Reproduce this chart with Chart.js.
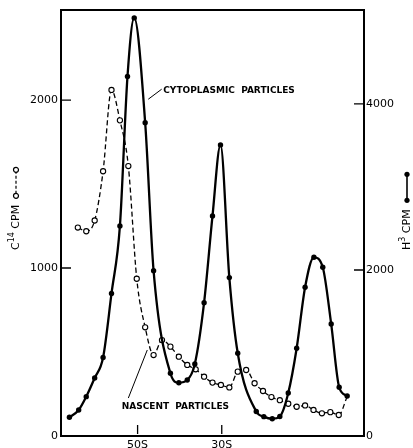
<!DOCTYPE html>
<html lang="en">
<head>
<meta charset="UTF-8">
<title>Perfil de sedimentação</title>
<style>
  html, body { margin: 0; padding: 0; background: #fff; }
  #wrap { width: 413px; height: 448px; }
</style>
</head>
<body>
<div id="wrap"><canvas id="grafico" width="413" height="448"></canvas></div>

<script src="https://cdn.jsdelivr.net/npm/chart.js"></script>
<script>
    // H3 (cytoplasmic particles) - fraction number and counts, right axis
    const fracH3 = [1, 2.1, 3, 4, 5, 6, 7, 7.9, 8.7, 10, 11, 13, 14, 15, 15.9, 17, 18, 18.95, 20, 21,
        23.2, 24.1, 25.1, 26, 27, 28, 29, 30.05, 31.1, 32.1, 33.05, 34];
    const h3Cpm = [225, 313, 474, 699, 946, 1717, 2531, 4332, 5037, 3775, 1992, 756, 642, 675, 868, 1606, 2651, 3507, 1908, 997,
        295, 233, 208, 235, 518, 1057, 1792, 2153, 2033, 1350, 587, 482];

    // C14 (nascent particles) - fraction number and counts, left axis
    const fracC14 = [2, 3, 4, 5, 6, 7, 8, 9, 10, 11, 12, 13, 14, 15, 16, 17, 18, 19, 20, 21,
        22, 23, 24, 25, 26, 27, 28, 29, 30, 31, 32, 33, 34];
    const c14Cpm = [1241, 1219, 1283, 1576, 2060, 1879, 1607, 936, 647, 482, 571, 532, 472, 423, 397, 353, 318, 304, 289, 383,
        393, 314, 268, 232, 213, 192, 174, 182, 155, 135, 142, 125, 234];

    const leftTicks = [0, 1000, 2000];
    const rightTicks = [0, 2000, 4000];
    const sedFrac = [9.1, 19.1];
    const sedLabels = ['50S', '30S'];

    const FONTE = '"DejaVu Sans", sans-serif';

    function pontos(xs, ys) {
        return xs.map(function (x, i) { return { x: x, y: ys[i] }; });
    }

    function textoSup(ctx, partes, x, y, tam) {
        let cx = x;
        partes.forEach(function (p) {
            ctx.font = (p[1] ? Math.round(tam * 0.7) : tam) + 'px ' + FONTE;
            ctx.fillText(p[0], cx, p[1] ? y - tam * 0.4 : y);
            cx += ctx.measureText(p[0]).width;
        });
        return cx;
    }

    const moldura = {
        id: 'moldura',
        afterDraw(chart) {
            const ctx = chart.ctx;
            const a = chart.chartArea;
            const sx = chart.scales.x, sy = chart.scales.y, sy1 = chart.scales.y1;
            ctx.save();
            ctx.strokeStyle = '#000';
            ctx.fillStyle = '#000';
            ctx.lineWidth = 2;
            ctx.strokeRect(a.left, a.top, a.right - a.left, a.bottom - a.top);

            // inward tick marks
            ctx.lineWidth = 1.3;
            ctx.beginPath();
            leftTicks.forEach(function (v) {
                if (v === 0) return;
                const py = sy.getPixelForValue(v);
                ctx.moveTo(a.left, py); ctx.lineTo(a.left + 10, py);
            });
            rightTicks.forEach(function (v) {
                if (v === 0) return;
                const py = sy1.getPixelForValue(v);
                ctx.moveTo(a.right, py); ctx.lineTo(a.right - 10, py);
            });
            sedFrac.forEach(function (f) {
                const px = sx.getPixelForValue(f);
                ctx.moveTo(px, a.bottom - 2); ctx.lineTo(px, a.bottom - 11);
            });
            ctx.stroke();

            // labels with leader lines
            ctx.lineWidth = 1;
            ctx.beginPath();
            ctx.moveTo(sx.getPixelForValue(10.37), sy1.getPixelForValue(4057));
            ctx.lineTo(sx.getPixelForValue(11.96), sy1.getPixelForValue(4178));
            ctx.moveTo(sx.getPixelForValue(8.0), sy.getPixelForValue(226));
            ctx.lineTo(sx.getPixelForValue(10.25), sy.getPixelForValue(512));
            ctx.stroke();

            ctx.font = 'bold 9px ' + FONTE;
            ctx.textBaseline = 'middle';
            ctx.textAlign = 'left';
            ctx.fillText('CYTOPLASMIC  PARTICLES', sx.getPixelForValue(12.15), sy1.getPixelForValue(4161));
            ctx.fillText('NASCENT  PARTICLES', sx.getPixelForValue(7.21), sy.getPixelForValue(174));

            // axis titles with the series symbol
            ctx.save();
            ctx.translate(16, 250);
            ctx.rotate(-Math.PI / 2);
            let fim = textoSup(ctx, [['C', false], ['14', true], [' CPM', false]], 0, 0, 11);
            ctx.lineWidth = 1.2;
            ctx.setLineDash([3, 2]);
            ctx.beginPath();
            ctx.moveTo(fim + 11, 0); ctx.lineTo(fim + 33, 0);
            ctx.stroke();
            ctx.setLineDash([]);
            [fim + 9, fim + 35].forEach(function (cx) {
                ctx.beginPath();
                ctx.arc(cx, 0, 2.5, 0, Math.PI * 2);
                ctx.fillStyle = '#fff'; ctx.fill();
                ctx.stroke();
            });
            ctx.restore();

            ctx.save();
            ctx.fillStyle = '#000';
            ctx.translate(407, 250);
            ctx.rotate(-Math.PI / 2);
            fim = textoSup(ctx, [['H', false], ['3', true], [' CPM', false]], 0, 0, 11);
            ctx.lineWidth = 1.6;
            ctx.beginPath();
            ctx.moveTo(fim + 9, 0); ctx.lineTo(fim + 35, 0);
            ctx.stroke();
            [fim + 9, fim + 35].forEach(function (cx) {
                ctx.beginPath();
                ctx.arc(cx, 0, 2.6, 0, Math.PI * 2);
                ctx.fill();
            });
            ctx.restore();

            ctx.restore();
        }
    };

    const ctx = document.getElementById('grafico');

    new Chart(ctx, {
        type: 'line',
        data: {
            datasets: [{
                label: 'H3 CPM',
                data: pontos(fracH3, h3Cpm),
                yAxisID: 'y1',
                borderColor: '#000',
                borderWidth: 2.3,
                pointRadius: 2.7,
                pointBackgroundColor: '#000',
                pointBorderWidth: 0,
                cubicInterpolationMode: 'monotone'
            }, {
                label: 'C14 CPM',
                data: pontos(fracC14, c14Cpm),
                yAxisID: 'y',
                borderColor: '#000',
                borderWidth: 1.3,
                borderDash: [5, 3],
                pointRadius: fracC14.map(function (f, i) { return i === fracC14.length - 1 ? 0 : 2.6; }),
                pointBackgroundColor: '#fff',
                pointBorderColor: '#000',
                pointBorderWidth: 1.1,
                cubicInterpolationMode: 'monotone'
            }]
        },
        options: {
            responsive: false,
            animation: false,
            layout: { padding: { top: 10, left: 0, right: 0, bottom: 0 } },
            plugins: {
                legend: { display: false },
                tooltip: { enabled: false }
            },
            scales: {
                x: {
                    type: 'linear',
                    min: 0,
                    max: 36,
                    grid: { display: false, drawTicks: false },
                    border: { display: false },
                    afterBuildTicks: function (s) { s.ticks = sedFrac.map(function (v) { return { value: v }; }); },
                    afterFit: function (s) { s.height = 12; },
                    ticks: {
                        padding: 3,
                        color: '#000',
                        font: { family: 'DejaVu Sans', size: 11 },
                        maxRotation: 0,
                        callback: function (v) { const i = sedFrac.indexOf(v); return i >= 0 ? sedLabels[i] : ''; }
                    }
                },
                y: {
                    position: 'left',
                    min: 0,
                    max: 2536,
                    grid: { display: false, drawTicks: false },
                    border: { display: false },
                    afterBuildTicks: function (s) { s.ticks = leftTicks.map(function (v) { return { value: v }; }); },
                    afterFit: function (s) { s.width = 61; },
                    ticks: {
                        padding: 3,
                        color: '#000',
                        font: { family: 'DejaVu Sans', size: 11 },
                        callback: function (v) { return String(v); }
                    }
                },
                y1: {
                    position: 'right',
                    min: 0,
                    max: 5132,
                    grid: { display: false, drawTicks: false },
                    border: { display: false },
                    afterBuildTicks: function (s) { s.ticks = rightTicks.map(function (v) { return { value: v }; }); },
                    afterFit: function (s) { s.width = 49; },
                    ticks: {
                        padding: 2,
                        color: '#000',
                        font: { family: 'DejaVu Sans', size: 11 },
                        callback: function (v) { return String(v); }
                    }
                }
            }
        },
        plugins: [moldura]
    });
</script>
</body>
</html>
